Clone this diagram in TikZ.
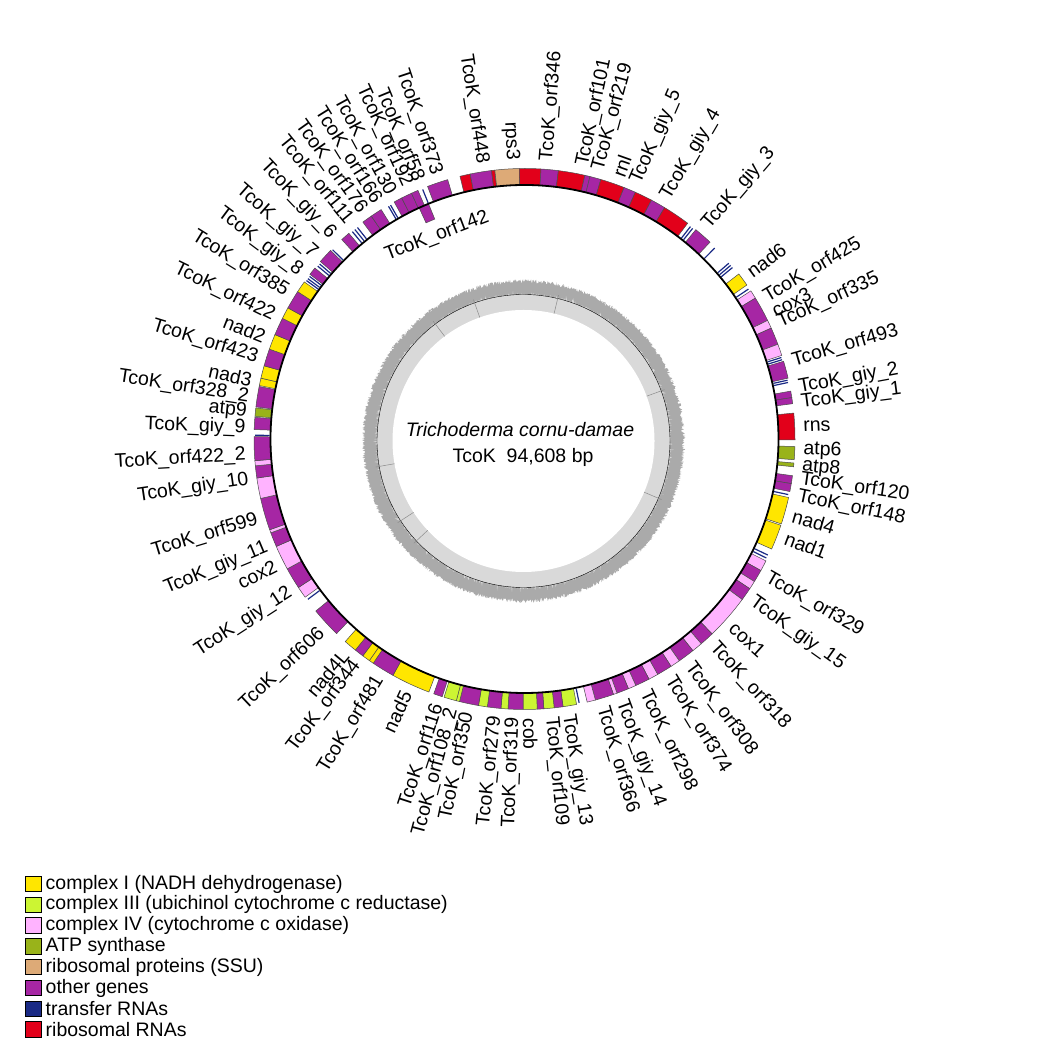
\documentclass[tikz,border=0pt]{standalone}
\usepackage{fontspec}
\setmainfont{Liberation Sans}
\definecolor{cI}{HTML}{FFE600}
\definecolor{cIII}{HTML}{CCF533}
\definecolor{cIV}{HTML}{FFB3FF}
\definecolor{atp}{HTML}{99B31A}
\definecolor{rp}{HTML}{DDAA77}
\definecolor{oth}{HTML}{A626A4}
\definecolor{trna}{HTML}{1A2A85}
\definecolor{rrna}{HTML}{E2001A}
\definecolor{gcdark}{HTML}{AAAAAA}
\definecolor{gclight}{HTML}{D9D9D9}
\tikzset{
  lab/.style={font=\fontsize{19.5}{22}\selectfont, inner sep=0pt},
  gbx/.style={draw=black!70, line width=0.5pt},
  sq/.style={draw=black, line width=0.9pt, minimum size=15.5pt, inner sep=0pt},
  legtxt/.style={font=\fontsize{19.5}{22}\selectfont, anchor=west, inner sep=0pt},
  gctick/.style={draw=black!45, line width=0.5pt},
}
\newcommand\gn[3]{\filldraw[gbx, fill=#3] ({90-(#1)}:254) arc[start angle={90-(#1)}, end angle={90-(#2)}, radius=254] -- ({90-(#2)}:270.5) arc[start angle={90-(#2)}, end angle={90-(#1)}, radius=270.5] -- cycle;}
\newcommand\gin[3]{\filldraw[gbx, fill=#3] ({90-(#1)}:237.5) arc[start angle={90-(#1)}, end angle={90-(#2)}, radius=237.5] -- ({90-(#2)}:254) arc[start angle={90-(#2)}, end angle={90-(#1)}, radius=254] -- cycle;}
\newcommand\trn[1]{\draw[trna, line width=1.2pt] ({90-(#1)}:255) -- ({90-(#1)}:269.5);}
\newcommand\rlab[3]{\node[lab, anchor=west, rotate={90-(#1)}] (#3) at ({90-(#1)}:279) {#2};}
\newcommand\llab[3]{\node[lab, anchor=east, rotate={270-(#1)}] (#3) at ({90-(#1)}:279) {#2};}
\begin{document}
\begin{tikzpicture}[x=1pt,y=1pt]
\useasboundingbox (0,0) rectangle (1062,1062);
% ---------- GC content ring ----------
\begin{scope}[shift={(523.5,621)}]
\pgfmathsetseed{7}
\fill[gcdark] plot[samples=2000, domain=0:359.8, variable=\t] (\t:{158+4*rnd}) -- cycle;
\fill[gclight] plot[samples=2000, domain=0:359.8, variable=\t] (\t:{146+7*rnd*rnd*rnd}) -- cycle;
\fill[white] (0,0) circle[radius=131];
\draw[black, line width=0.4pt] (0,0) circle[radius=146.5];
\foreach \a in {76.5,109.5,127,190,213,223,20,-23}{\draw[gctick] (\a:131) -- (\a:150);}
\end{scope}
% ---------- genes ----------
\begin{scope}[shift={(524.5,623)}]
\gn{-13.8}{-11.6}{rrna}
\gn{-11.6}{-7.0}{oth}
\gn{-7.0}{-6.3}{rrna}
\gn{-6.3}{-1.1}{rp}
\gn{-1.1}{3.5}{rrna}
\gn{3.5}{7.2}{oth}
\gn{7.2}{12.9}{rrna}
\gn{12.9}{14.0}{oth}
\gn{14.0}{16.4}{oth}
\gn{16.4}{21.6}{rrna}
\gn{21.6}{24.2}{oth}
\gn{24.2}{28.0}{rrna}
\gn{28.0}{31.2}{oth}
\gn{31.2}{37.1}{rrna}
\trn{38.0}\trn{38.6}
\gn{39.3}{43.3}{oth}
\trn{44.9}
\trn{49.3}\trn{49.9}\trn{50.5}
\gn{52.4}{55.3}{cI}
\trn{56.2}
\gn{56.8}{58.6}{cIV}
\gn{58.6}{64}{oth}
\gn{64}{65.8}{cIV}
\gn{65.8}{69.5}{oth}
\gn{69.5}{72}{cIV}
\trn{72.4}\trn{72.9}
\gn{73.3}{77}{oth}
\trn{77.4}\trn{77.9}
\gn{79.8}{81.2}{oth}
\gn{81.2}{82.5}{oth}
\gn{84.5}{90.2}{rrna}
\gn{91.6}{94.4}{atp}
\gn{95.1}{95.9}{atp}
\gn{97.8}{99.5}{oth}
\gn{99.5}{101.2}{oth}
\trn{101.9}
\gn{102.5}{108.3}{cI}
\gn{108.6}{114}{cI}
\trn{115.5}\trn{116.2}
\gn{116.8}{119.1}{cIV}
\gn{119.1}{121.8}{oth}
\gn{121.8}{123.6}{cIV}
\gn{123.6}{126.4}{oth}
\gn{126.4}{136.1}{cIV}
\gn{136.1}{139.2}{oth}
\gn{139.2}{141.5}{cIV}
\gn{141.5}{145.1}{oth}
\gn{145.1}{147.2}{cIV}
\gn{147.2}{150.5}{oth}
\gn{150.5}{152.6}{cIV}
\gn{152.6}{155.7}{oth}
\gn{155.7}{157.4}{cIV}
\gn{157.4}{160.0}{oth}
\gn{160.0}{160.8}{cIV}
\gn{160.8}{164.8}{oth}
\gn{164.8}{166.6}{cIV}
\trn{168.3}
\gn{168.9}{171.8}{cIII}
\gn{171.8}{173.7}{oth}
\gn{173.7}{175.9}{cIII}
\gn{175.9}{177.3}{oth}
\gn{177.3}{180.3}{cIII}
\gn{180.3}{183.5}{oth}
\gn{183.5}{185}{cIII}
\gn{185}{187.9}{oth}
\gn{187.9}{189.8}{cIII}
\gn{189.8}{193.9}{oth}
\gn{193.9}{194.6}{cIII}
\gn{194.6}{197.3}{cIII}
\gn{197.7}{199.6}{oth}
\gn{200.7}{209.1}{cI}
\gn{209.1}{214}{oth}
\gn{214}{215}{cI}
\gn{215}{216.7}{cI}
\gn{216.7}{218.7}{oth}
\gn{218.7}{221.5}{cI}
\gn{224}{230.5}{oth}
\trn{233.5}
\gn{234.2}{236.7}{cIV}
\gn{236.7}{241.3}{oth}
\gn{241.3}{246.6}{cIV}
\gn{246.6}{249.7}{oth}
\gn{249.7}{250.4}{cIV}
\gn{250.4}{257.3}{oth}
\gn{257.3}{261.7}{cIV}
\gn{261.7}{264.3}{oth}
\gn{264.3}{265.4}{cIV}
\gn{265.4}{270.5}{oth}
\trn{270.8}
\gn{272}{274.6}{oth}
\gn{274.8}{276.6}{atp}
\gn{276.8}{281.2}{oth}
\gn{281.4}{283}{cI}
\gn{283}{285.7}{cI}
\gn{285.7}{289.4}{oth}
\gn{289.4}{292.7}{cI}
\gn{292.7}{296.5}{oth}
\gn{296.5}{299}{cI}
\gn{299}{303}{oth}
\gn{303}{305.5}{cI}
\trn{306}\trn{306.5}\trn{307.1}
\gn{307.5}{309.2}{oth}
\trn{309.9}\trn{310.5}
\gn{311}{314.2}{oth}
\trn{314.6}
\gn{317.5}{319.5}{oth}
\trn{320.3}\trn{321}\trn{321.7}
\gn{323.3}{325.5}{oth}
\gn{325.5}{328}{oth}
\trn{329.7}\trn{330.2}
\gn{331.2}{333}{oth}
\gn{333}{335.3}{oth}
\gn{335.3}{336.8}{oth}
\trn{337.8}
\gn{339}{343.5}{oth}
\gin{335.5}{337.8}{oth}
\draw[black, line width=1.8pt] (0,0) circle[radius=254];
% labels, left half
\llab{-18.4}{TcoK\_orf373}{a1}
\llab{-8.7}{TcoK\_orf448}{a2}
\llab{-2.6}{rps3}{a3}
\llab{-22.3}{TcoK\_orf58}{a4}
\llab{-24.8}{TcoK\_orf192}{a5}
\llab{-28.6}{TcoK\_orf130}{a6}
\llab{-31.9}{TcoK\_orf166}{a7}
\llab{-35.4}{TcoK\_orf176}{a8}
\llab{-38.9}{TcoK\_orf111}{a9}
\llab{-43.4}{TcoK\_giy\_6}{a10}
\llab{-48.7}{TcoK\_giy\_7}{a11}
\llab{-53.3}{TcoK\_giy\_8}{a12}
\llab{-58.3}{TcoK\_orf385}{a13}
\llab{-63.9}{TcoK\_orf422}{a14}
\llab{-68.5}{nad2}{a15}
\llab{-73}{TcoK\_orf423}{a16}
\llab{-77.8}{nad3}{a17}
\llab{-81.3}{TcoK\_orf328\_2}{a18}
\llab{-84.4}{atp9}{a19}
\llab{-87.8}{TcoK\_giy\_9}{a20}
\llab{-93.3}{TcoK\_orf422\_2}{a21}
\llab{-98.4}{TcoK\_giy\_10}{a22}
\llab{-106.8}{TcoK\_orf599}{a23}
\llab{-112.7}{TcoK\_giy\_11}{a24}
\llab{-116.9}{cox2}{a25}
\llab{-123}{TcoK\_giy\_12}{a26}
\llab{-133.5}{TcoK\_orf606}{a27}
\llab{-140}{nad4L}{a28}
\llab{-143.1}{TcoK\_orf344}{a29}
\llab{-148.7}{TcoK\_orf481}{a30}
\llab{-155}{nad5}{a31}
\llab{-162}{TcoK\_orf116}{a32}
\llab{-165}{TcoK\_orf108\_2}{a33}
\llab{-168.3}{TcoK\_orf350}{a34}
\llab{-174}{TcoK\_orf279}{a35}
\llab{-177.7}{TcoK\_orf319}{a36}
% labels, right half
\rlab{4.6}{TcoK\_orf346}{b1}
\rlab{12.0}{TcoK\_orf101}{b2}
\rlab{15.3}{TcoK\_orf219}{b3}
\rlab{19.6}{rnl}{b4}
\rlab{23.5}{TcoK\_giy\_5}{b5}
\rlab{30.3}{TcoK\_giy\_4}{b6}
\rlab{40.5}{TcoK\_giy\_3}{b7}
\rlab{53.5}{nad6}{b8}
\rlab{59.6}{TcoK\_orf425}{b9}
\rlab{62.9}{cox3}{b10}
\rlab{65.5}{TcoK\_orf335}{b11}
\rlab{73.8}{TcoK\_orf493}{b12}
\rlab{79.4}{TcoK\_giy\_2}{b13}
\rlab{82.5}{TcoK\_giy\_1}{b14}
\rlab{87.5}{rns}{b15}
\rlab{92.2}{atp6}{b16}
\rlab{95.6}{atp8}{b17}
\rlab{98.3}{TcoK\_orf120}{b18}
\rlab{101.8}{TcoK\_orf148}{b19}
\rlab{106}{nad4}{b20}
\rlab{110.7}{nad1}{b21}
\rlab{119.7}{TcoK\_orf329}{b22}
\rlab{125.4}{TcoK\_giy\_15}{b23}
\rlab{132}{cox1}{b24}
\rlab{137.5}{TcoK\_orf318}{b25}
\rlab{143.9}{TcoK\_orf308}{b26}
\rlab{148.7}{TcoK\_orf374}{b27}
\rlab{154.5}{TcoK\_orf298}{b28}
\rlab{159.7}{TcoK\_giy\_14}{b29}
\rlab{163.8}{TcoK\_orf366}{b30}
\rlab{171}{TcoK\_giy\_13}{b31}
\rlab{174.5}{TcoK\_orf109}{b32}
\rlab{178.9}{cob}{b33}
\end{scope}
\node[lab, rotate=21] (o142) at (437,826) {TcoK\_orf142};
% ---------- centre ----------
\node[lab, font=\fontsize{19.5}{22}\selectfont\itshape] (sp) at (520,632) {Trichoderma cornu-damae};
\node[lab] (bp) at (523,604.5) {TcoK~~94,608 bp};
% ---------- legend ----------
\node[sq, fill=cI] (s1) at (33.5,178) {};
\node[legtxt] (t1) at (45.5,178) {complex I (NADH dehydrogenase)};
\node[sq, fill=cIII] (s2) at (33.5,157.2) {};
\node[legtxt] (t2) at (45.5,157.2) {complex III (ubichinol cytochrome c reductase)};
\node[sq, fill=cIV] (s3) at (33.5,136.4) {};
\node[legtxt] (t3) at (45.5,136.4) {complex IV (cytochrome c oxidase)};
\node[sq, fill=atp] (s4) at (33.5,115.6) {};
\node[legtxt] (t4) at (45.5,115.6) {ATP synthase};
\node[sq, fill=rp] (s5) at (33.5,94.8) {};
\node[legtxt] (t5) at (45.5,94.8) {ribosomal proteins (SSU)};
\node[sq, fill=oth] (s6) at (33.5,74) {};
\node[legtxt] (t6) at (45.5,74) {other genes};
\node[sq, fill=trna] (s7) at (33.5,53.2) {};
\node[legtxt] (t7) at (45.5,53.2) {transfer RNAs};
\node[sq, fill=rrna] (s8) at (33.5,32.4) {};
\node[legtxt] (t8) at (45.5,32.4) {ribosomal RNAs};
\end{tikzpicture}
\end{document}
